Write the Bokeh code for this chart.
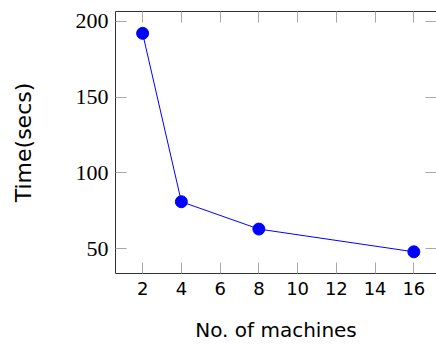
from bokeh.plotting import figure
from bokeh.models import LinearAxis, Range1d, FixedTicker, ColumnDataSource
from bokeh.embed import file_html
from bokeh.resources import INLINE

machines = [2, 4, 8, 16]
times = [192, 81, 63, 48]
x_ticks = [2, 4, 6, 8, 10, 12, 14, 16]
y_ticks = [50, 100, 150, 200]

src = ColumnDataSource(data=dict(x=machines, y=times))

p = figure(width=436, height=345, output_backend="svg", toolbar_location=None,
           x_range=Range1d(0.6, 17.17), y_range=Range1d(33.7, 206.4),
           x_axis_label="No. of machines", y_axis_label="Time(secs)",
           min_border_left=115, min_border_top=11, min_border_right=0, min_border_bottom=72)
p.background_fill_color = "white"
p.border_fill_color = "white"
p.outline_line_color = None
p.grid.visible = False

tick_col = "#a8a8a8"
axis_col = "#333333"

for ax in p.xaxis:
    ax.ticker = FixedTicker(ticks=x_ticks)
    ax.major_label_text_font = "DejaVu Sans"
    ax.major_label_text_font_size = "18px"
    ax.axis_label_text_font = "DejaVu Sans"
    ax.axis_label_text_font_size = "20px"
    ax.axis_label_text_font_style = "normal"
    ax.major_label_standoff = 8
    ax.axis_label_standoff = 20

for ax in p.yaxis:
    ax.ticker = FixedTicker(ticks=y_ticks)
    ax.major_label_text_font = "Liberation Serif"
    ax.major_label_text_font_size = "22px"
    ax.axis_label_text_font = "DejaVu Sans"
    ax.axis_label_text_font_size = "22px"
    ax.axis_label_text_font_style = "normal"
    ax.major_label_standoff = 7
    ax.axis_label_standoff = 37

for ax in list(p.xaxis) + list(p.yaxis):
    ax.major_tick_in = 11
    ax.major_tick_out = 0
    ax.minor_tick_in = 0
    ax.minor_tick_out = 0
    ax.major_tick_line_color = tick_col
    ax.axis_line_color = axis_col
    ax.major_label_text_color = "black"
    ax.axis_label_text_color = "black"

top = LinearAxis(ticker=FixedTicker(ticks=x_ticks), major_tick_in=11, major_tick_out=0,
                 minor_tick_in=0, minor_tick_out=0, major_tick_line_color=tick_col,
                 axis_line_color=axis_col, major_label_text_font_size="1px",
                 major_label_overrides={t: "" for t in x_ticks},
                 major_label_standoff=0)
p.add_layout(top, "above")
right = LinearAxis(ticker=FixedTicker(ticks=y_ticks), major_tick_in=11, major_tick_out=0,
                   minor_tick_in=0, minor_tick_out=0, major_tick_line_color=tick_col,
                   axis_line_color=None, major_label_text_font_size="1px",
                   major_label_overrides={t: "" for t in y_ticks},
                   major_label_standoff=0)
p.add_layout(right, "right")

p.line("x", "y", source=src, line_color="#0000ff", line_width=1)
p.scatter("x", "y", source=src, size=12, fill_color="#0000ff", line_color="#0000ff")

open("out.html", "w").write(file_html(p, INLINE))
